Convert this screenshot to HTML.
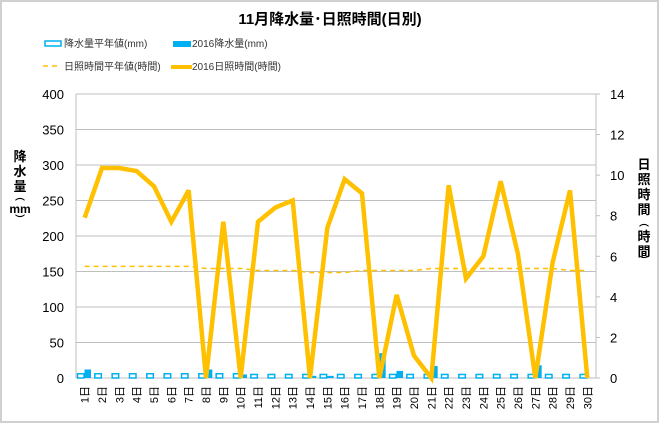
<!DOCTYPE html>
<html><head><meta charset="utf-8">
<style>
body{margin:0;width:660px;height:424px;overflow:hidden;background:#fff;font-family:"Liberation Sans","Noto Sans CJK JP",sans-serif;}
svg text{font-family:"Liberation Sans","Noto Sans CJK JP",sans-serif;}
</style></head><body>
<svg id="chart" width="660" height="424" xmlns="http://www.w3.org/2000/svg">
<rect x="1" y="1" width="657" height="421" fill="#fff" stroke="#d0d0d0" stroke-width="2"/>
<text x="330" y="24" text-anchor="middle" font-size="15" font-weight="bold" fill="#000">11月降水量･日照時間(日別)</text>
<g>
<rect x="45" y="41" width="16" height="5" fill="#fff" stroke="#00b0f0" stroke-width="1.5"/>
<text x="64" y="47" font-size="10" fill="#333">降水量平年値(mm)</text>
<rect x="173" y="41" width="18" height="6" fill="#00b0f0"/>
<text x="192" y="47" font-size="10" fill="#333">2016降水量(mm)</text>
<line x1="43" y1="66" x2="61" y2="66" stroke="#ffc000" stroke-width="1.5" stroke-dasharray="5,4"/>
<text x="64" y="70" font-size="10" fill="#333">日照時間平年値(時間)</text>
<line x1="171" y1="67" x2="192" y2="67" stroke="#ffc000" stroke-width="4"/>
<text x="192" y="70" font-size="10" fill="#333">2016日照時間(時間)</text>
</g>
<g font-size="13" font-weight="bold" fill="#000">
<text x="20" y="161" text-anchor="middle">降</text><text x="20" y="176" text-anchor="middle">水</text><text x="20" y="191" text-anchor="middle">量</text><text x="20" y="200" text-anchor="middle" font-size="10">︵</text><text x="20" y="213" text-anchor="middle" font-size="12">mm</text><text x="20" y="223" text-anchor="middle" font-size="10">︶</text>
</g>
<g font-size="13" font-weight="bold" fill="#000">
<text x="644" y="169" text-anchor="middle">日</text><text x="644" y="184" text-anchor="middle">照</text><text x="644" y="199" text-anchor="middle">時</text><text x="644" y="214" text-anchor="middle">間</text><text x="644" y="226" text-anchor="middle" font-size="10">︵</text><text x="644" y="241" text-anchor="middle">時</text><text x="644" y="256" text-anchor="middle">間</text><text x="644" y="264" text-anchor="middle" font-size="10">︶</text>
</g>
<g id="grid"></g><g id="bars"></g><g id="lines"></g><g id="axes"></g>
</svg>
<script>
const days=[1,2,3,4,5,6,7,8,9,10,11,12,13,14,15,16,17,18,19,20,21,22,23,24,25,26,27,28,29,30];
const rainNormal=[6,6,6,6,6,6,6,6,6,6,5,5,5,5,5,5,5,5,5,5,5,5,5,5,5,5,5,5,5,5];
const rain2016=[12,0,0,0,0,0,0,12,0,5,0,0,0,3,3,0,0,35,10,0,17,0,0,0,0,0,18,0,0,0];
const sunNormal=[5.5,5.5,5.5,5.5,5.5,5.5,5.5,5.4,5.4,5.4,5.3,5.3,5.3,5.2,5.2,5.2,5.3,5.3,5.3,5.3,5.4,5.4,5.4,5.4,5.4,5.4,5.4,5.4,5.3,5.3];
const sun2016=[7.9,10.35,10.35,10.2,9.45,7.7,9.25,0,7.7,0,7.7,8.4,8.75,0,7.4,9.8,9.1,0,4.1,1.1,0,9.5,4.9,6.0,9.7,6.1,0,5.7,9.25,0];
const leftTicks=[0,50,100,150,200,250,300,350,400];
const rightTicks=[0,2,4,6,8,10,12,14];
const X0=76,X1=596,Y0=378,Y1=94;
const cw=(X1-X0)/days.length;
const yL=v=>Y0-(v/400)*(Y0-Y1);
const yR=v=>Y0-(v/14)*(Y0-Y1);
const xC=i=>X0+cw*(i+0.5);
const NS="http://www.w3.org/2000/svg";
function mk(tag,attrs,parent,txt){const e=document.createElementNS(NS,tag);for(const k in attrs)e.setAttribute(k,attrs[k]);if(txt!==undefined)e.textContent=txt;parent.appendChild(e);return e;}
const grid=document.getElementById('grid'),bars=document.getElementById('bars'),lines=document.getElementById('lines'),axes=document.getElementById('axes');
leftTicks.forEach(t=>{
 const l=mk('line',{x1:X0,x2:X1,y1:yL(t),y2:yL(t),stroke:'#bfbfbf','stroke-width':1},grid);
 
 
 const tx=mk('text',{x:X0-12,y:yL(t)+5,'text-anchor':'end','font-size':13,fill:'#000'},axes,t);
 
 
});
rightTicks.forEach(t=>{
 mk('line',{x1:X1,x2:X1+4,y1:yR(t),y2:yR(t),stroke:'#bfbfbf'},axes);
 const tx=mk('text',{x:X1+14,y:yR(t)+5,'font-size':13,fill:'#000'},axes,t);
 
 
});
mk('line',{x1:X0,x2:X0,y1:Y1,y2:Y0,stroke:'#bfbfbf'},axes);
mk('line',{x1:X1,x2:X1,y1:Y1,y2:Y0,stroke:'#bfbfbf'},axes);
const bw=6.5;
days.forEach((d,i)=>{
 const xs=X0+cw*i;
 const b1=mk('rect',{x:xs+1.5,y:yL(rainNormal[i]),width:bw,height:Y0-yL(rainNormal[i]),fill:'#fff',stroke:'#00b0f0','stroke-width':1.5},bars);
 
 
 if(rain2016[i]>0){
  const b2=mk('rect',{x:xs+1.5+bw+0.5,y:yL(rain2016[i]),width:bw,height:Y0-yL(rain2016[i]),fill:'#00b0f0'},bars);
  
  
 }
 const lab=mk('text',{transform:`translate(${xC(i)+4},${Y0+8}) rotate(-90)`,'text-anchor':'end','font-size':11,fill:'#000'},axes,d+'日');
 
 
});
const p1=mk('polyline',{points:sunNormal.map((v,i)=>xC(i)+','+yR(v)).join(' '),fill:'none',stroke:'#ffc000','stroke-width':1.5,'stroke-dasharray':'5,4'},lines);


const p2=mk('polyline',{points:sun2016.map((v,i)=>xC(i)+','+yR(v)).join(' '),fill:'none',stroke:'#ffc000','stroke-width':4.5,'stroke-linejoin':'miter','stroke-miterlimit':3},lines);


</script>
</body></html>
